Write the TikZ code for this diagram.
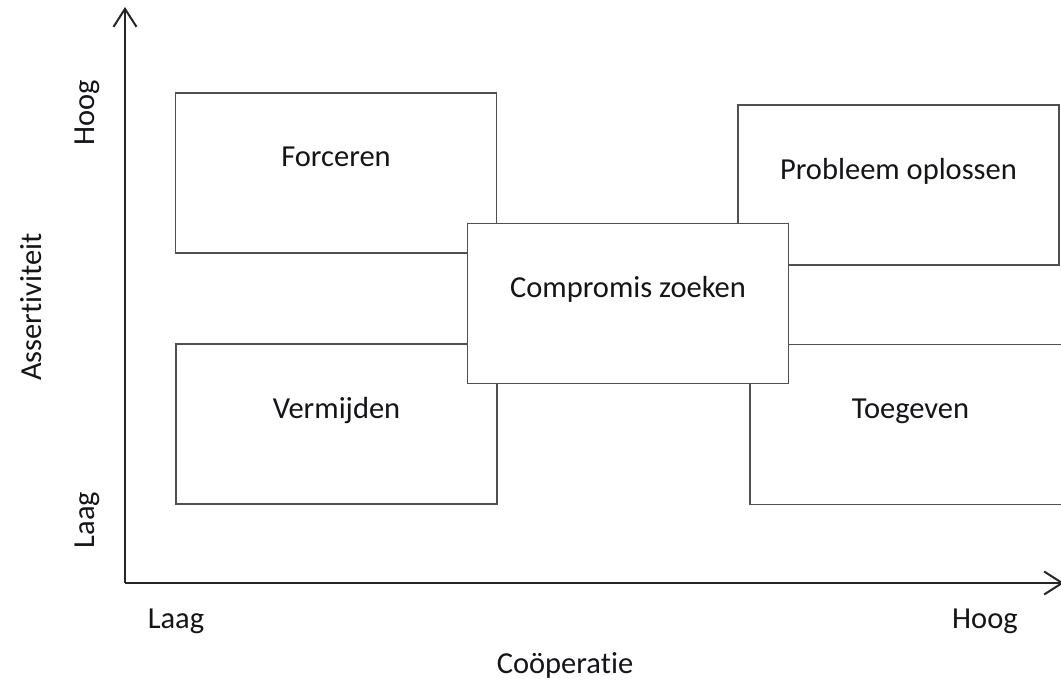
\documentclass[tikz,border=0pt]{standalone}
\usepackage{fontspec}
\setmainfont[RawFeature={-liga;-clig;-calt;-dlig}]{Carlito}
\usepackage{tikz}
\usetikzlibrary{arrows.meta}
\usetikzlibrary{positioning}
\definecolor{boxgray}{RGB}{80,80,80}
\definecolor{textblack}{RGB}{20,20,25}
\tikzstyle{quadrant} = [draw=boxgray, line width=1.6pt, fill=white,
    rectangle, minimum width=321pt, minimum height=160pt,
    text height=22pt, text depth=34pt, text=textblack]
\tikzstyle{axis} = [draw=black!85, line width=2pt,
    -{Straight Barb[length=18pt,width=23pt,line width=2pt]}]
\tikzstyle{axislabel} = [text=textblack, inner sep=0pt]

\begin{document}
\begin{tikzpicture}[x=1pt, y=-1pt, font=\fontsize{30.5}{36}\selectfont]
    \useasboundingbox (0,0) rectangle (1061,682);

    \coordinate (origin) at (125,583);
    \coordinate (ytop) at (125,7);
    \coordinate (xend) at (1064,583);

    \node [quadrant] (forceren) at (336,173) {Forceren};
    \node [quadrant] (probleem) at (898.5,185) {Probleem oplossen};
    \node [quadrant] (vermijden) at (336.5,424) {Vermijden};
    \node [quadrant] (toegeven) at (910.5,424.5) {Toegeven};
    \node [quadrant] (compromis) at (628,303.5) {Compromis zoeken};

    \draw [axis] (origin) -- (ytop);
    \draw [axis] (origin) -- (xend);

    \node [axislabel, rotate=90] (yhoog) at (87,113) {Hoog};
    \node [axislabel, rotate=90] (ylaag) at (87,520) {Laag};
    \node [axislabel, rotate=90] (ytitle) at (31,307) {Assertiviteit};
    \node [axislabel] (xlaag) at (176,621) {Laag};
    \node [axislabel] (xhoog) at (985,621) {Hoog};
    \node [axislabel] (xtitle) at (565,665) {Coöperatie};
\end{tikzpicture}
\end{document}
